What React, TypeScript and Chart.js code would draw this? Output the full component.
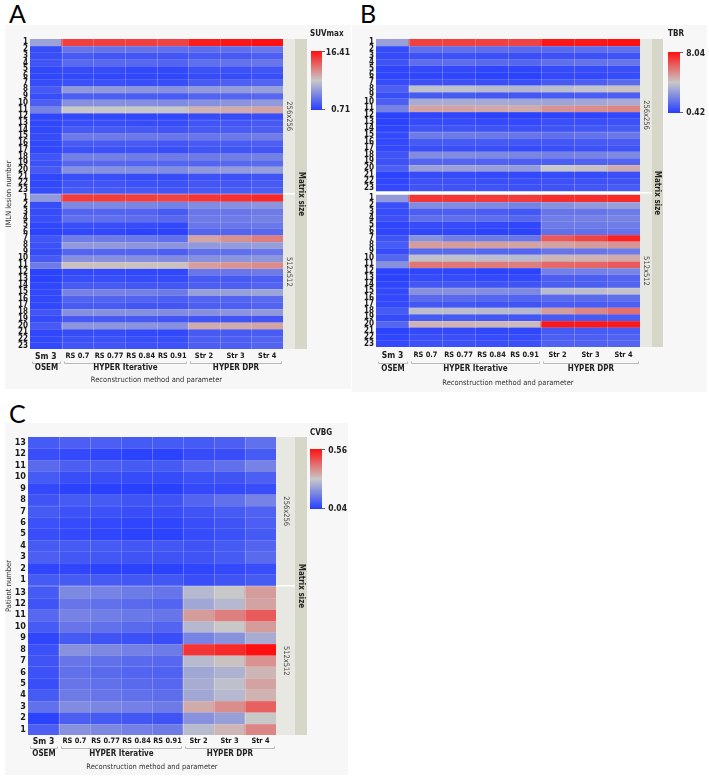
import { useEffect, useRef } from "react";
import { Chart, registerables } from "chart.js";

Chart.register(...registerables);

const FONT = '"DejaVu Sans Condensed", "Liberation Sans", Arial, sans-serif';

// Column categories and their method groups
const methods = ["Sm 3", "RS 0.7", "RS 0.77", "RS 0.84", "RS 0.91", "Str 2", "Str 3", "Str 4"];
const methodGroups = [
  { name: "OSEM", from: 0, to: 0 },
  { name: "HYPER Iterative", from: 1, to: 4 },
  { name: "HYPER DPR", from: 5, to: 7 },
];
const matrixSizes = ["256x256", "512x512"];

const lesionNumbers = ["1", "2", "3", "4", "5", "6", "7", "8", "9", "10", "11", "12", "13", "14", "15", "16", "17", "18", "19", "20", "21", "22", "23"];
const patientNumbers = ["13", "12", "11", "10", "9", "8", "7", "6", "5", "4", "3", "2", "1"];

// SUVmax per IMLN lesion (rows) and reconstruction (columns)
const suvmax256 = [
  [6.4, 14.4, 14.4, 14.4, 14.2, 15.9, 16.1, 16.4],
  [1.5, 3.9, 3.7, 3.7, 3.5, 3.4, 3.5, 3.9],
  [1.6, 2.3, 2.1, 2.1, 2.1, 2.3, 2.3, 2.6],
  [2.0, 3.2, 3.2, 3.1, 2.9, 3.5, 3.7, 3.9],
  [1.3, 1.5, 1.5, 1.3, 1.3, 1.8, 1.8, 2.0],
  [1.2, 1.3, 1.2, 1.2, 1.2, 1.5, 1.5, 1.6],
  [1.5, 1.8, 1.8, 1.6, 1.6, 2.3, 2.6, 2.9],
  [2.3, 5.9, 5.9, 5.7, 5.4, 5.9, 6.0, 6.2],
  [1.6, 2.6, 2.6, 2.4, 2.3, 2.8, 2.9, 3.1],
  [2.6, 5.4, 5.4, 5.3, 5.1, 5.4, 5.6, 5.9],
  [4.6, 8.6, 8.6, 8.6, 8.4, 9.5, 9.8, 10.1],
  [1.2, 1.3, 1.3, 1.2, 1.2, 1.5, 1.5, 1.6],
  [1.2, 1.6, 1.6, 1.5, 1.5, 2.0, 2.1, 2.3],
  [1.3, 2.3, 2.3, 2.3, 2.1, 2.3, 2.4, 2.6],
  [1.5, 4.2, 4.2, 4.0, 3.9, 3.9, 4.0, 4.3],
  [1.3, 2.3, 2.3, 2.3, 2.1, 2.3, 2.4, 2.6],
  [1.3, 1.8, 1.8, 1.8, 1.6, 2.0, 2.0, 2.1],
  [2.0, 4.5, 4.5, 4.3, 4.2, 4.2, 4.3, 4.5],
  [1.8, 3.1, 3.1, 2.9, 2.9, 2.9, 3.1, 3.2],
  [2.3, 5.4, 5.4, 5.3, 5.1, 5.9, 6.0, 6.2],
  [1.2, 1.6, 1.6, 1.5, 1.5, 1.8, 1.8, 2.0],
  [1.3, 2.0, 2.0, 1.8, 1.8, 2.1, 2.1, 2.3],
  [1.5, 2.3, 2.3, 2.3, 2.1, 2.3, 2.4, 2.6],
];
const suvmax512 = [
  [5.9, 14.5, 14.5, 14.4, 14.2, 14.8, 15.0, 15.3],
  [1.6, 4.9, 4.9, 4.8, 4.5, 5.1, 5.4, 5.6],
  [1.5, 2.9, 2.9, 2.8, 2.3, 3.9, 3.9, 4.2],
  [1.6, 3.5, 3.5, 3.4, 3.1, 4.2, 4.2, 4.5],
  [1.2, 1.6, 1.6, 1.5, 1.3, 3.9, 3.9, 4.0],
  [1.0, 1.2, 1.2, 1.0, 1.0, 2.9, 2.9, 3.1],
  [2.0, 4.3, 4.2, 4.0, 3.5, 10.1, 10.9, 11.7],
  [1.8, 5.9, 5.9, 5.7, 5.6, 5.9, 6.0, 6.2],
  [1.5, 2.9, 2.9, 2.8, 2.6, 3.5, 3.5, 3.9],
  [2.3, 5.4, 5.4, 5.3, 5.1, 5.4, 5.6, 5.7],
  [4.2, 9.0, 9.0, 8.9, 8.9, 10.4, 10.8, 11.1],
  [1.0, 1.3, 1.3, 1.2, 1.2, 3.9, 3.9, 4.2],
  [1.0, 1.6, 1.6, 1.5, 1.5, 2.3, 2.3, 2.6],
  [1.2, 2.3, 2.3, 2.1, 2.1, 2.6, 2.6, 2.9],
  [1.3, 4.6, 4.6, 4.5, 4.2, 6.2, 6.2, 6.5],
  [1.3, 2.9, 2.9, 2.8, 2.6, 2.9, 2.9, 3.2],
  [1.3, 2.3, 2.3, 2.1, 2.1, 2.6, 2.6, 2.8],
  [2.0, 5.4, 5.4, 5.3, 5.1, 5.4, 5.6, 5.9],
  [1.5, 2.3, 2.3, 2.3, 2.1, 2.0, 2.0, 2.1],
  [2.3, 5.7, 5.7, 5.6, 5.4, 9.8, 9.8, 10.1],
  [1.2, 1.5, 1.5, 1.3, 1.3, 2.3, 2.3, 2.4],
  [1.3, 1.8, 1.8, 1.6, 1.6, 2.6, 2.6, 2.8],
  [1.3, 2.0, 2.0, 1.8, 1.8, 2.6, 2.6, 2.9],
];

// Tumour-to-background ratio per IMLN lesion
const tbr256 = [
  [3.09, 7.05, 7.05, 7.05, 6.97, 7.89, 7.89, 8.04],
  [0.80, 1.79, 1.79, 1.72, 1.64, 1.64, 1.72, 1.79],
  [0.80, 0.95, 0.95, 0.88, 0.88, 0.95, 0.95, 1.03],
  [1.03, 1.72, 1.72, 1.64, 1.56, 1.79, 1.87, 1.94],
  [0.65, 0.72, 0.72, 0.65, 0.65, 0.80, 0.80, 0.88],
  [0.65, 0.65, 0.65, 0.57, 0.57, 0.72, 0.72, 0.80],
  [0.80, 0.95, 0.95, 0.88, 0.88, 1.18, 1.33, 1.64],
  [1.33, 4.00, 4.00, 3.85, 3.70, 3.93, 4.08, 4.38],
  [0.88, 1.18, 1.18, 1.11, 1.11, 1.18, 1.26, 1.33],
  [1.33, 3.47, 3.47, 3.39, 3.32, 3.24, 3.32, 3.47],
  [2.33, 4.99, 4.99, 4.92, 4.84, 5.30, 5.45, 5.60],
  [0.57, 0.65, 0.65, 0.57, 0.57, 0.65, 0.65, 0.72],
  [0.57, 0.80, 0.80, 0.72, 0.72, 0.88, 0.88, 0.95],
  [0.65, 1.03, 1.03, 1.03, 0.95, 1.03, 1.11, 1.18],
  [0.72, 2.10, 2.10, 2.02, 1.94, 1.79, 1.87, 2.02],
  [0.72, 1.18, 1.18, 1.18, 1.11, 1.11, 1.18, 1.26],
  [0.72, 0.88, 0.88, 0.88, 0.80, 0.88, 0.95, 1.03],
  [1.03, 2.55, 2.55, 2.48, 2.40, 2.25, 2.33, 2.48],
  [0.95, 1.49, 1.49, 1.41, 1.33, 1.33, 1.41, 1.49],
  [1.33, 3.16, 3.16, 3.09, 3.01, 4.23, 4.38, 4.84],
  [0.57, 0.80, 0.80, 0.72, 0.72, 0.80, 0.80, 0.88],
  [0.65, 0.95, 0.95, 0.88, 0.88, 0.95, 0.95, 1.03],
  [0.72, 1.03, 1.03, 1.03, 0.95, 1.03, 1.11, 1.18],
];
const tbr512 = [
  [2.93, 7.28, 7.28, 7.20, 7.13, 7.43, 7.43, 7.51],
  [0.88, 2.55, 2.55, 2.48, 2.33, 2.71, 2.93, 3.09],
  [0.80, 1.33, 1.33, 1.26, 1.11, 1.94, 1.94, 2.10],
  [0.95, 1.79, 1.79, 1.72, 1.56, 2.17, 2.25, 2.33],
  [0.65, 0.80, 0.80, 0.72, 0.65, 2.10, 2.10, 2.17],
  [0.65, 0.65, 0.65, 0.57, 0.57, 1.79, 1.79, 1.87],
  [1.03, 2.71, 2.17, 2.10, 1.94, 6.52, 6.97, 7.66],
  [1.18, 5.14, 5.14, 5.07, 4.99, 4.99, 5.14, 5.30],
  [0.80, 1.64, 1.64, 1.56, 1.49, 1.94, 1.94, 2.10],
  [1.56, 4.00, 4.00, 3.93, 3.85, 4.61, 4.69, 4.84],
  [2.71, 5.91, 5.91, 5.83, 5.75, 6.21, 6.29, 6.52],
  [0.57, 0.65, 0.65, 0.57, 0.57, 2.25, 2.25, 2.40],
  [0.57, 0.80, 0.80, 0.72, 0.72, 1.33, 1.33, 1.49],
  [0.65, 1.11, 1.11, 1.03, 1.03, 1.33, 1.33, 1.49],
  [0.72, 2.71, 2.71, 2.63, 2.48, 3.85, 3.93, 4.08],
  [0.72, 1.64, 1.64, 1.56, 1.49, 1.64, 1.64, 1.79],
  [0.72, 1.11, 1.11, 1.03, 1.03, 1.26, 1.26, 1.33],
  [1.18, 3.93, 3.93, 3.85, 3.77, 5.14, 5.60, 6.06],
  [0.80, 1.18, 1.18, 1.11, 1.11, 1.18, 1.18, 1.26],
  [1.56, 4.69, 4.69, 4.61, 4.53, 7.89, 7.89, 7.89],
  [0.57, 0.72, 0.72, 0.65, 0.65, 1.18, 1.18, 1.26],
  [0.65, 0.88, 0.88, 0.80, 0.80, 1.33, 1.33, 1.41],
  [0.72, 0.95, 0.95, 0.88, 0.88, 1.41, 1.41, 1.49],
];

// Background coefficient of variation per patient (rows listed 13 down to 1)
const cvbg256 = [
  [0.092, 0.102, 0.102, 0.092, 0.092, 0.092, 0.102, 0.134],
  [0.071, 0.061, 0.056, 0.050, 0.050, 0.066, 0.071, 0.092],
  [0.123, 0.102, 0.102, 0.092, 0.092, 0.118, 0.134, 0.170],
  [0.092, 0.071, 0.071, 0.066, 0.066, 0.076, 0.082, 0.102],
  [0.061, 0.050, 0.045, 0.045, 0.045, 0.061, 0.061, 0.071],
  [0.082, 0.092, 0.092, 0.082, 0.082, 0.113, 0.134, 0.170],
  [0.092, 0.076, 0.076, 0.071, 0.071, 0.082, 0.092, 0.108],
  [0.076, 0.066, 0.061, 0.056, 0.056, 0.071, 0.082, 0.102],
  [0.071, 0.061, 0.056, 0.050, 0.050, 0.066, 0.076, 0.092],
  [0.092, 0.092, 0.092, 0.087, 0.087, 0.082, 0.092, 0.113],
  [0.102, 0.087, 0.087, 0.082, 0.082, 0.082, 0.092, 0.123],
  [0.056, 0.056, 0.050, 0.050, 0.050, 0.056, 0.061, 0.071],
  [0.092, 0.092, 0.092, 0.087, 0.087, 0.071, 0.082, 0.092],
];
const cvbg512 = [
  [0.092, 0.180, 0.170, 0.154, 0.144, 0.269, 0.300, 0.362],
  [0.082, 0.144, 0.134, 0.123, 0.113, 0.238, 0.269, 0.352],
  [0.118, 0.170, 0.160, 0.149, 0.144, 0.362, 0.404, 0.456],
  [0.092, 0.144, 0.134, 0.123, 0.113, 0.269, 0.300, 0.362],
  [0.056, 0.092, 0.082, 0.076, 0.071, 0.170, 0.196, 0.248],
  [0.076, 0.196, 0.180, 0.165, 0.154, 0.508, 0.524, 0.560],
  [0.082, 0.144, 0.134, 0.123, 0.118, 0.274, 0.310, 0.378],
  [0.076, 0.134, 0.123, 0.113, 0.108, 0.238, 0.258, 0.326],
  [0.071, 0.144, 0.134, 0.123, 0.118, 0.248, 0.284, 0.352],
  [0.092, 0.154, 0.144, 0.134, 0.128, 0.238, 0.269, 0.331],
  [0.134, 0.186, 0.175, 0.165, 0.154, 0.342, 0.383, 0.446],
  [0.050, 0.102, 0.092, 0.087, 0.082, 0.196, 0.222, 0.300],
  [0.102, 0.196, 0.180, 0.165, 0.154, 0.274, 0.326, 0.394],
];

// Blue - gray - red colour ramp
const LOW = [38, 62, 255];
const MID = [200, 200, 200];
const HIGH = [255, 16, 16];
const rgb = (c: number[]) => `rgb(${c.map((v) => Math.round(v)).join(",")})`;

function heatColor(v: number, min: number, max: number) {
  const t = Math.min(1, Math.max(0, (v - min) / (max - min)));
  const [a, b, u] = t < 0.5 ? [LOW, MID, t * 2] : [MID, HIGH, (t - 0.5) * 2];
  return rgb(a.map((x, i) => x + (b[i] - x) * (u as number)));
}

type Box = { x: number; y: number; w: number; h: number };
type PanelSpec = {
  letter: string;
  letterPos: { x: number; y: number };
  box: Box;
  plot: { l: number; t: number; r: number; b: number };
  rowLabels: string[];
  sections: number[][][];
  gap: number;
  gapColor: string;
  min: number;
  max: number;
  minLabel: string;
  maxLabel: string;
  legendTitle: string;
  legend: { titleX: number; titleY: number; barX: number; barW: number; barTop: number; barBottom: number; labelRight: number };
  strip1W: number;
  strip2W: number;
  yTitle?: string;
  yTickSize: number;
  tickPad: number;
  bracketOff: number;
  groupOff: number;
  titlePad: number;
};

const PANEL_BG = "#f7f7f7";
const STRIP1 = "#e8e8e2";
const STRIP2 = "#d7d7c9";

const panels: PanelSpec[] = [
  {
    letter: "A",
    letterPos: { x: 9, y: 1 },
    box: { x: 5, y: 25, w: 346, h: 364 },
    plot: { l: 30, t: 39, r: 283, b: 349 },
    rowLabels: lesionNumbers,
    sections: [suvmax256, suvmax512],
    gap: 0.2,
    gapColor: "#dfe3f5",
    min: 0.71,
    max: 16.41,
    minLabel: "0.71",
    maxLabel: "16.41",
    legendTitle: "SUVmax",
    legend: { titleX: 310, titleY: 34, barX: 311, barW: 11, barTop: 51, barBottom: 110, labelRight: 350 },
    strip1W: 12,
    strip2W: 12,
    yTitle: "IMLN lesion number",
    yTickSize: 8,
    tickPad: 2.2,
    bracketOff: 14,
    groupOff: 19,
    titlePad: 4.5,
  },
  {
    letter: "B",
    letterPos: { x: 360, y: 1 },
    box: { x: 352, y: 25, w: 355, h: 367 },
    plot: { l: 376, t: 39, r: 640, b: 347 },
    rowLabels: lesionNumbers,
    sections: [tbr256, tbr512],
    gap: 0.6,
    gapColor: "#ffffff",
    min: 0.42,
    max: 8.04,
    minLabel: "0.42",
    maxLabel: "8.04",
    legendTitle: "TBR",
    legend: { titleX: 668, titleY: 34, barX: 668, barW: 12, barTop: 52, barBottom: 113, labelRight: 705 },
    strip1W: 12,
    strip2W: 11,
    yTickSize: 8,
    tickPad: 3.2,
    bracketOff: 16,
    groupOff: 22,
    titlePad: 4.5,
  },
  {
    letter: "C",
    letterPos: { x: 9, y: 401 },
    box: { x: 5, y: 423, w: 343, h: 352 },
    plot: { l: 28, t: 437, r: 276, b: 735 },
    rowLabels: patientNumbers,
    sections: [cvbg256, cvbg512],
    gap: 0.1,
    gapColor: "#d5d9f0",
    min: 0.04,
    max: 0.56,
    minLabel: "0.04",
    maxLabel: "0.56",
    legendTitle: "CVBG",
    legend: { titleX: 310, titleY: 433, barX: 310, barW: 12, barTop: 449, barBottom: 509, labelRight: 347 },
    strip1W: 19,
    strip2W: 12,
    yTitle: "Patient number",
    yTickSize: 9,
    tickPad: 1.5,
    bracketOff: 13,
    groupOff: 19,
    titlePad: 3.5,
  },
];

function buildConfig(spec: PanelSpec): any {
  const { box, plot, rowLabels, sections, gap, min, max } = spec;
  const nRows = rowLabels.length;
  const rowStart = (s: number, r: number) => s * (nRows + gap) + r;
  const yMax = sections.length * nRows + (sections.length - 1) * gap;

  const tickValues: number[] = [];
  const tickText: string[] = [];
  sections.forEach((_, s) =>
    rowLabels.forEach((lab, r) => {
      tickValues.push(rowStart(s, r) + 0.5);
      tickText.push(lab);
    })
  );

  const L = plot.l - box.x;
  const T = plot.t - box.y;
  const R = plot.r - box.x;
  const B = plot.b - box.y;

  const datasets = sections.flatMap((rows, s) =>
    rows.map((vals, r) => ({
      label: `${matrixSizes[s]} ${rowLabels[r]}`,
      data: vals.map(() => [rowStart(s, r), rowStart(s, r) + 1]),
      backgroundColor: vals.map((v) => heatColor(v, min, max)),
      borderWidth: 0,
      grouped: false,
      barPercentage: 1,
      categoryPercentage: 1,
    }))
  );

  const lg = {
    titleX: spec.legend.titleX - box.x,
    titleY: spec.legend.titleY - box.y,
    barX: spec.legend.barX - box.x,
    barW: spec.legend.barW,
    barTop: spec.legend.barTop - box.y,
    barBottom: spec.legend.barBottom - box.y,
    labelRight: spec.legend.labelRight - box.x,
  };

  const decor = {
    id: "heatDecor",
    beforeDatasetsDraw(chart: any) {
      const { ctx, chartArea: a } = chart;
      ctx.save();
      ctx.fillStyle = spec.gapColor;
      ctx.fillRect(a.left, a.top, a.right - a.left, a.bottom - a.top);
      ctx.restore();
    },
    afterDatasetsDraw(chart: any) {
      const { ctx, chartArea: a } = chart;
      const xs = chart.scales.x;
      const ys = chart.scales.y;
      const centers = methods.map((_, i) => xs.getPixelForValue(i));
      const half = (centers[1] - centers[0]) / 2;
      ctx.save();

      // faint cell separators
      ctx.lineWidth = 1;
      ctx.strokeStyle = "rgba(255,255,255,0.24)";
      ctx.beginPath();
      for (let i = 1; i < methods.length; i++) {
        const x = Math.round(centers[i] - half) + 0.5;
        ctx.moveTo(x, a.top);
        ctx.lineTo(x, a.bottom);
      }
      ctx.stroke();
      ctx.strokeStyle = "rgba(255,255,255,0.13)";
      ctx.beginPath();
      sections.forEach((rows, s) =>
        rows.forEach((_, r) => {
          if (r === 0) return;
          const y = Math.round(ys.getPixelForValue(rowStart(s, r))) + 0.5;
          ctx.moveTo(a.left, y);
          ctx.lineTo(a.right, y);
        })
      );
      ctx.stroke();

      // facet strips
      const s1x = a.right;
      const s2x = s1x + spec.strip1W;
      ctx.fillStyle = STRIP1;
      ctx.fillRect(s1x, a.top, spec.strip1W, a.bottom - a.top);
      ctx.fillStyle = STRIP2;
      ctx.fillRect(s2x, a.top, spec.strip2W, a.bottom - a.top);
      sections.forEach((_, s) => {
        const yTop = ys.getPixelForValue(rowStart(s, 0));
        const yBot = ys.getPixelForValue(rowStart(s, nRows));
        if (s > 0) {
          const prevBot = ys.getPixelForValue(rowStart(s - 1, nRows));
          ctx.fillStyle = "#ffffff";
          ctx.fillRect(s1x, Math.round((yTop + prevBot) / 2) - 1, spec.strip1W, 1.5);
        }
        ctx.save();
        ctx.translate(s1x + spec.strip1W / 2, (yTop + yBot) / 2);
        ctx.rotate(Math.PI / 2);
        ctx.font = `7.5px ${FONT}`;
        ctx.fillStyle = "#444";
        ctx.textAlign = "center";
        ctx.textBaseline = "middle";
        ctx.fillText(matrixSizes[s], 0, 0);
        ctx.restore();
      });
      ctx.save();
      ctx.translate(s2x + spec.strip2W / 2, (a.top + a.bottom) / 2);
      ctx.rotate(Math.PI / 2);
      ctx.font = `bold 8px ${FONT}`;
      ctx.fillStyle = "#222";
      ctx.textAlign = "center";
      ctx.textBaseline = "middle";
      ctx.fillText("Matrix size", 0, 0);
      ctx.restore();

      // colour legend
      ctx.font = `bold 8px ${FONT}`;
      ctx.fillStyle = "#222";
      ctx.textAlign = "left";
      ctx.textBaseline = "middle";
      ctx.fillText(spec.legendTitle, lg.titleX, lg.titleY);
      const grad = ctx.createLinearGradient(0, lg.barTop, 0, lg.barBottom);
      grad.addColorStop(0, rgb(HIGH));
      grad.addColorStop(0.5, rgb(MID));
      grad.addColorStop(1, rgb(LOW));
      ctx.fillStyle = grad;
      ctx.fillRect(lg.barX, lg.barTop, lg.barW, lg.barBottom - lg.barTop);
      ctx.strokeStyle = "#666";
      ctx.lineWidth = 1;
      ctx.beginPath();
      ctx.moveTo(lg.barX + lg.barW, lg.barTop + 0.5);
      ctx.lineTo(lg.barX + lg.barW + 3, lg.barTop + 0.5);
      ctx.moveTo(lg.barX + lg.barW, lg.barBottom - 0.5);
      ctx.lineTo(lg.barX + lg.barW + 3, lg.barBottom - 0.5);
      ctx.stroke();
      ctx.font = `bold 8.5px ${FONT}`;
      ctx.fillStyle = "#222";
      ctx.textAlign = "right";
      ctx.fillText(spec.maxLabel, lg.labelRight, lg.barTop + 1.5);
      ctx.fillText(spec.minLabel, lg.labelRight, lg.barBottom - 0.5);

      // method group brackets
      const yb = Math.round(a.bottom + spec.bracketOff) + 0.5;
      methodGroups.forEach((g) => {
        const x0 = Math.round(centers[g.from] - half + 2) + 0.5;
        const x1 = Math.round(centers[g.to] + half - 1) - 0.5;
        ctx.strokeStyle = "#b9b9b9";
        ctx.beginPath();
        ctx.moveTo(x0, yb - 2);
        ctx.lineTo(x0, yb);
        ctx.lineTo(x1, yb);
        ctx.lineTo(x1, yb - 2);
        ctx.stroke();
        ctx.font = `bold 8px ${FONT}`;
        ctx.fillStyle = "#222";
        ctx.textAlign = "center";
        ctx.textBaseline = "middle";
        ctx.fillText(g.name, (x0 + x1) / 2, a.bottom + spec.groupOff);
      });
      ctx.restore();
    },
  };

  return {
    type: "bar",
    data: { labels: methods, datasets },
    options: {
      animation: false,
      responsive: false,
      events: [],
      layout: { padding: { left: 0, top: T, right: box.w - R, bottom: 0 } },
      plugins: { legend: { display: false }, tooltip: { enabled: false } },
      scales: {
        x: {
          type: "category",
          offset: true,
          grid: { display: false, drawTicks: false },
          border: { display: false },
          ticks: {
            autoSkip: false,
            maxRotation: 0,
            padding: spec.tickPad,
            color: "#1a1a1a",
            font: (c: any) => ({ family: FONT, size: c.index === 0 ? 8.5 : 7.4, weight: "bold" }),
          },
          title: {
            display: true,
            text: "Reconstruction method and parameter",
            color: "#333",
            font: { family: FONT, size: 7.5 },
            padding: { top: 0, bottom: spec.titlePad },
          },
          afterFit: (s: any) => {
            s.height = box.h - B;
          },
        },
        y: {
          type: "linear",
          min: 0,
          max: yMax,
          reverse: true,
          grid: { display: false, drawTicks: false },
          border: { display: false },
          afterBuildTicks: (s: any) => {
            s.ticks = tickValues.map((value) => ({ value }));
          },
          ticks: {
            autoSkip: false,
            padding: 2,
            color: "#1a1a1a",
            font: { family: FONT, size: spec.yTickSize, weight: "bold" },
            callback: (_v: any, i: number) => tickText[i],
          },
          title: spec.yTitle
            ? { display: true, text: spec.yTitle, color: "#333", font: { family: FONT, size: 7.5 }, padding: 0 }
            : { display: false },
          afterFit: (s: any) => {
            s.width = L;
          },
        },
      },
    },
    plugins: [decor],
  };
}

function HeatPanel({ spec }: { spec: PanelSpec }) {
  const ref = useRef<HTMLCanvasElement>(null);
  useEffect(() => {
    const canvas = ref.current;
    if (!canvas) return;
    const chart = new Chart(canvas, buildConfig(spec));
    return () => chart.destroy();
  }, [spec]);
  const { box } = spec;
  return (
    <>
      <div
        style={{
          position: "absolute",
          left: spec.letterPos.x,
          top: spec.letterPos.y,
          fontFamily: "Lato, 'Open Sans', sans-serif",
          fontSize: 25,
          lineHeight: "25px",
          color: "#000",
        }}
      >
        {spec.letter}
      </div>
      <canvas
        ref={ref}
        width={box.w}
        height={box.h}
        style={{ position: "absolute", left: box.x, top: box.y, width: box.w, height: box.h, background: PANEL_BG }}
      />
    </>
  );
}

export default function App() {
  return (
    <div style={{ position: "absolute", left: 0, top: 0, width: 709, height: 777, background: "#fff", overflow: "hidden" }}>
      {panels.map((p) => (
        <HeatPanel key={p.letter} spec={p} />
      ))}
    </div>
  );
}
